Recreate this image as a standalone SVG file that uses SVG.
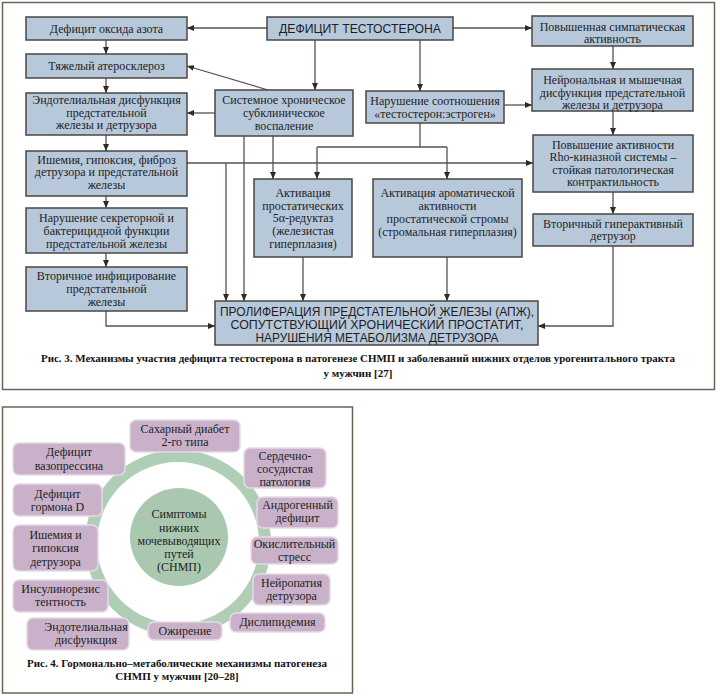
<svg xmlns="http://www.w3.org/2000/svg" width="720" height="696" viewBox="0 0 720 696">
<defs>
<marker id="ah" markerUnits="userSpaceOnUse" markerWidth="8" markerHeight="6" refX="7" refY="3" orient="auto"><path d="M0,0 L7,3 L0,6 z" fill="#2e2a26"/></marker>
<style>
.frame{fill:#fff;stroke:#6e6357;stroke-width:1.5}
.box{fill:#b6c8da;stroke:#4a4743;stroke-width:1.5}
.t{font-family:"Liberation Serif","Times New Roman",serif;font-size:12px;fill:#1e1e1e;text-anchor:middle}
.big{font-family:"Liberation Sans",Arial,sans-serif;font-size:12px;fill:#1e1e1e;text-anchor:middle}
.cap{font-family:"Liberation Serif","Times New Roman",serif;font-size:11px;font-weight:bold;fill:#111;text-anchor:middle}
.c{fill:none;stroke:#5b5048;stroke-width:1.3}
.pk{fill:#c9b2c9;stroke:#e6dae6;stroke-width:1.5}
</style>
</defs>
<rect class="frame" x="2.5" y="2.5" width="712" height="387"/>
<rect class="frame" x="2.5" y="407" width="350" height="286"/>

<g id="connectors">
<path class="c" d="M267,28 H187" marker-end="url(#ah)"/>
<path class="c" d="M453,28 H532" marker-end="url(#ah)"/>
<path class="c" d="M315,40 V90" marker-end="url(#ah)"/>
<path class="c" d="M420,40 V91" marker-end="url(#ah)"/>
<path class="c" d="M106,40 V54" marker-end="url(#ah)"/>
<path class="c" d="M106,78 V93" marker-end="url(#ah)"/>
<path class="c" d="M268,90 L187,66" marker-end="url(#ah)"/>
<path class="c" d="M215,113 H187" marker-end="url(#ah)"/>
<path class="c" d="M106,135 V151" marker-end="url(#ah)"/>
<path class="c" d="M106,196 V208" marker-end="url(#ah)"/>
<path class="c" d="M106,253 V267" marker-end="url(#ah)"/>
<path class="c" d="M106,311 V326 H215" marker-end="url(#ah)"/>
<path class="c" d="M187,163 H533" marker-end="url(#ah)"/>
<path class="c" d="M226,163 V301" marker-end="url(#ah)"/>
<path class="c" d="M244,136 V301" marker-end="url(#ah)"/>
<path class="c" d="M273,136 V179" marker-end="url(#ah)"/>
<path class="c" d="M420,123 V147"/>
<path class="c" d="M317,147 H447"/>
<path class="c" d="M317,147 V179" marker-end="url(#ah)"/>
<path class="c" d="M447,147 V179" marker-end="url(#ah)"/>
<path class="c" d="M504,105 H532" marker-end="url(#ah)"/>
<path class="c" d="M613,46 V69" marker-end="url(#ah)"/>
<path class="c" d="M613,111 V135" marker-end="url(#ah)"/>
<path class="c" d="M613,192 V214" marker-end="url(#ah)"/>
<path class="c" d="M613,246 V326 H538" marker-end="url(#ah)"/>
<path class="c" d="M303,257 V301" marker-end="url(#ah)"/>
<path class="c" d="M447,257 V301" marker-end="url(#ah)"/>
</g>

<g id="n-no"><rect class="box" x="26" y="17" width="161" height="23"/><text class="t" x="106.5" y="32.5">Дефицит оксида азота</text></g>
<g id="n-def"><rect class="box" x="267" y="17" width="186" height="23"/><text class="big" x="360" y="33" font-size="12.5" textLength="162" lengthAdjust="spacingAndGlyphs">ДЕФИЦИТ ТЕСТОСТЕРОНА</text></g>
<g id="n-symp"><rect class="box" x="532" y="16" width="161" height="30"/><text class="t" x="612.5" y="30.5">Повышенная симпатическая</text><text class="t" x="612.5" y="43">активность</text></g>
<g id="n-ath"><rect class="box" x="26" y="54" width="161" height="24"/><text class="t" x="106.5" y="70">Тяжелый атеросклероз</text></g>
<g id="n-endo"><rect class="box" x="26" y="93" width="161" height="42"/><text class="t" x="106.5" y="104">Эндотелиальная дисфункция</text><text class="t" x="106.5" y="116.5">предстательной</text><text class="t" x="106.5" y="129">железы и детрузора</text></g>
<g id="n-infl"><rect class="box" x="215" y="90" width="138" height="46"/><text class="t" x="284" y="104">Системное хроническое</text><text class="t" x="284" y="117">субклиническое</text><text class="t" x="284" y="130">воспаление</text></g>
<g id="n-ratio"><rect class="box" x="366" y="91" width="138" height="32"/><text class="t" x="435" y="105">Нарушение соотношения</text><text class="t" x="435" y="117.5">«тестостерон:эстроген»</text></g>
<g id="n-neur"><rect class="box" x="532" y="69" width="161" height="42"/><text class="t" x="612.5" y="84">Нейрональная и мышечная</text><text class="t" x="612.5" y="96.5">дисфункция предстательной</text><text class="t" x="612.5" y="109">железы и детрузора</text></g>
<g id="n-isch"><rect class="box" x="26" y="151" width="161" height="45"/><text class="t" x="106.5" y="163.5">Ишемия, гипоксия, фиброз</text><text class="t" x="106.5" y="176">детрузора и предстательной</text><text class="t" x="106.5" y="188.5">железы</text></g>
<g id="n-rho"><rect class="box" x="533" y="135" width="160" height="57"/><text class="t" x="613" y="148.5">Повышение активности</text><text class="t" x="613" y="161">Rho-киназной системы –</text><text class="t" x="613" y="173.5">стойкая патологическая</text><text class="t" x="613" y="186">контрактильность</text></g>
<g id="n-5a"><rect class="box" x="254" y="179" width="98" height="78"/><text class="t" x="303" y="197">Активация</text><text class="t" x="303" y="209.5">простатических</text><text class="t" x="303" y="222">5α-редуктаз</text><text class="t" x="303" y="235">(железистая</text><text class="t" x="303" y="247.5">гиперплазия)</text></g>
<g id="n-arom"><rect class="box" x="373" y="179" width="149" height="78"/><text class="t" x="447.5" y="197">Активация ароматической</text><text class="t" x="447.5" y="209.5">активности</text><text class="t" x="447.5" y="222.5">простатической стромы</text><text class="t" x="447.5" y="235.5">(стромальная гиперплазия)</text></g>
<g id="n-secr"><rect class="box" x="26" y="208" width="161" height="45"/><text class="t" x="106.5" y="222">Нарушение секреторной и</text><text class="t" x="106.5" y="235">бактерицидной функции</text><text class="t" x="106.5" y="248">предстательной железы</text></g>
<g id="n-hyper"><rect class="box" x="533" y="214" width="160" height="32"/><text class="t" x="613" y="227.5">Вторичный гиперактивный</text><text class="t" x="613" y="240">детрузор</text></g>
<g id="n-inf"><rect class="box" x="26" y="267" width="161" height="44"/><text class="t" x="106.5" y="280">Вторичное инфицирование</text><text class="t" x="106.5" y="293">предстательной</text><text class="t" x="106.5" y="306">железы</text></g>
<g id="n-prol"><rect class="box" x="215" y="301" width="323" height="44"/><text class="big" x="377" y="315.5" textLength="314" lengthAdjust="spacingAndGlyphs">ПРОЛИФЕРАЦИЯ ПРЕДСТАТЕЛЬНОЙ ЖЕЛЕЗЫ (АПЖ),</text><text class="big" x="377" y="328.5" textLength="293" lengthAdjust="spacingAndGlyphs">СОПУТСТВУЮЩИЙ ХРОНИЧЕСКИЙ ПРОСТАТИТ,</text><text class="big" x="377" y="341.5" textLength="243" lengthAdjust="spacingAndGlyphs">НАРУШЕНИЯ МЕТАБОЛИЗМА ДЕТРУЗОРА</text></g>

<text class="cap" x="358" y="362" textLength="634" lengthAdjust="spacingAndGlyphs">Рис. 3. Механизмы участия дефицита тестостерона в патогенезе СНМП и заболеваний нижних отделов урогенитального тракта</text>
<text class="cap" x="358" y="377" font-size="12">у мужчин [27]</text>

<g id="ring"><circle cx="178" cy="543" r="87" fill="none" stroke="#b0ceb6" stroke-width="12"/></g>
<g id="center"><circle cx="179" cy="537" r="49" fill="#a9c8af"/><text class="t" x="179" y="518">Симптомы</text><text class="t" x="179" y="531.5">нижних</text><text class="t" x="179" y="545">мочевыводящих</text><text class="t" x="179" y="558">путей</text><text class="t" x="179" y="571">(СНМП)</text></g>

<g id="p-diab"><rect class="pk" x="130" y="420" width="110" height="32" rx="6"/><text class="t" x="185" y="433">Сахарный диабет</text><text class="t" x="185" y="446">2-го типа</text></g>
<g id="p-vaso"><rect class="pk" x="13" y="443" width="112" height="32" rx="6"/><text class="t" x="69" y="456">Дефицит</text><text class="t" x="69" y="470">вазопрессина</text></g>
<g id="p-card"><rect class="pk" x="244" y="448" width="82" height="40" rx="6"/><text class="t" x="285" y="460">Сердечно-</text><text class="t" x="285" y="473">сосудистая</text><text class="t" x="285" y="486">патология</text></g>
<g id="p-andr"><rect class="pk" x="257" y="497" width="81" height="31" rx="6"/><text class="t" x="297.5" y="509">Андрогенный</text><text class="t" x="297.5" y="522">дефицит</text></g>
<g id="p-horm"><rect class="pk" x="13" y="484" width="89" height="32" rx="6"/><text class="t" x="57.5" y="498">Дефицит</text><text class="t" x="57.5" y="511">гормона D</text></g>
<g id="p-isch"><rect class="pk" x="13" y="525" width="85" height="46" rx="6"/><text class="t" x="55.5" y="539">Ишемия и</text><text class="t" x="55.5" y="552">гипоксия</text><text class="t" x="55.5" y="566">детрузора</text></g>
<g id="p-oxid"><rect class="pk" x="251" y="537" width="87" height="27" rx="6"/><text class="t" x="294.5" y="548">Окислительный</text><text class="t" x="294.5" y="561">стресс</text></g>
<g id="p-ins"><rect class="pk" x="13" y="580" width="95" height="32" rx="6"/><text class="t" x="60.5" y="593">Инсулинорезис</text><text class="t" x="60.5" y="606">тентность</text></g>
<g id="p-neuro"><rect class="pk" x="253" y="574" width="77" height="31" rx="6"/><text class="t" x="291.5" y="587">Нейропатия</text><text class="t" x="291.5" y="600">детрузора</text></g>
<g id="p-dysl"><rect class="pk" x="230" y="613" width="95" height="19" rx="6"/><text class="t" x="277.5" y="626">Дислипидемия</text></g>
<g id="p-endo"><rect class="pk" x="27" y="618" width="102" height="32" rx="6"/><text class="t" x="86" y="631">Эндотелиальная</text><text class="t" x="86" y="644">дисфункция</text></g>
<g id="p-obes"><rect class="pk" x="148" y="622" width="74" height="18" rx="6"/><text class="t" x="185" y="635">Ожирение</text></g>

<text class="cap" x="177" y="667" textLength="300" lengthAdjust="spacingAndGlyphs">Рис. 4. Гормонально–метаболические механизмы патогенеза</text>
<text class="cap" x="177" y="680" font-size="12">СНМП у мужчин [20–28]</text>
</svg>
